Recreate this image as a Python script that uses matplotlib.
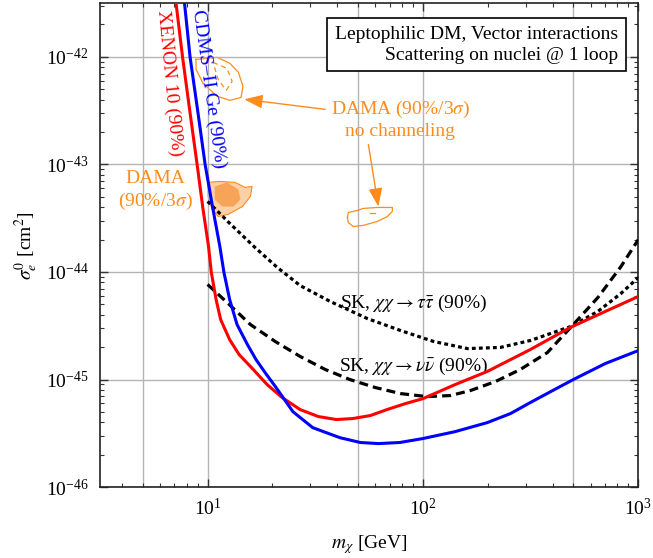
import matplotlib
matplotlib.use("Agg")
import matplotlib.pyplot as plt
from matplotlib.ticker import NullFormatter

plt.rcParams['font.family'] = ['Liberation Serif', 'DejaVu Serif']
plt.rcParams['mathtext.fontset'] = 'stix'

# XENON 10 (90%) limit
xenon_m = [7.10, 7.65, 8.25, 8.94, 9.53, 10.1, 10.4, 10.95, 11.5, 12.66, 14.0, 16.3,
           18.9, 22.2, 26.9, 32.7, 39.6, 47.2, 57.0, 68.1, 82.9, 100, 141, 199, 315,
           483, 703, 1000]
xenon_s = [3.43e-42, 1e-42, 3.24e-43, 1e-43, 3.8e-44, 1.73e-44, 1e-44, 5.55e-45,
           3.61e-45, 2.35e-45, 1.71e-45, 1.24e-45, 8.98e-46, 6.8e-46, 5.26e-46,
           4.53e-46, 4.25e-46, 4.34e-46, 4.63e-46, 5.26e-46, 5.98e-46, 6.65e-46,
           8.98e-46, 1.19e-45, 1.9e-45, 3.05e-45, 4.3e-45, 5.92e-45]

# CDMS-II Ge (90%) limit
cdms_m = [7.78, 8.29, 8.98, 9.74, 10.6, 11.4, 11.9, 12.66, 13.7, 15.3, 16.8, 18.5,
          20.8, 24.9, 30.8, 41.2, 51.2, 62.1, 78.1, 100, 141, 199, 255, 315,
          400, 499, 703, 1000]
cdms_s = [3.43e-42, 1e-42, 3.24e-43, 1e-43, 3.8e-44, 1.73e-44, 1e-44, 5.55e-45,
          3.25e-45, 2.12e-45, 1.53e-45, 1.16e-45, 8.43e-46, 5.03e-46,
          3.57e-46, 2.88e-46, 2.6e-46, 2.54e-46, 2.6e-46, 2.83e-46, 3.28e-46,
          3.98e-46, 4.83e-46, 6.11e-46, 7.9e-46, 1e-45, 1.41e-45, 1.86e-45]

# Super-Kamiokande, tau tau-bar channel
sk_tau_m = [10, 12.7, 16.6, 21.1, 26.9, 37.1, 55.2, 78.6, 112, 161, 229, 316, 485,
            649, 830, 1000]
sk_tau_s = [4.53e-44, 2.82e-44, 1.69e-44, 1.10e-44, 7.48e-45, 5.32e-45, 3.69e-45,
            2.86e-45, 2.26e-45, 1.94e-45, 1.99e-45, 2.31e-45, 3.11e-45, 4.3e-45,
            6.31e-45, 8.89e-45]

# Super-Kamiokande, nu nu-bar channel
sk_nu_m = [10, 12.6, 15.8, 20.6, 26.9, 35.2, 45.8, 60.1, 78.6, 104, 134, 166, 217,
           283, 378, 485, 649, 830, 1000]
sk_nu_s = [7.66e-45, 4.99e-45, 3.25e-45, 2.26e-45, 1.64e-45, 1.24e-45, 1e-45,
           8.43e-46, 7.41e-46, 6.95e-46, 7.1e-46, 7.9e-46, 9.58e-46, 1.24e-45,
           1.78e-45, 3.05e-45, 5.79e-45, 1.12e-44, 2.0e-44]

# DAMA (90%/3 sigma), with channeling
dama_out_m = [10.05, 11.43, 13.42, 14.94, 16.1, 15.8, 14.5, 12.45, 11.2, 10.5, 10.05]
dama_out_s = [6.81e-44, 6.95e-44, 6.81e-44, 6.11e-44, 6.24e-44, 5.03e-44, 4.06e-44,
              3.43e-44, 3.28e-44, 3.81e-44, 5.03e-44]
dama_in_m = [10.8, 12.3, 13.9, 14.2, 13.2, 11.7, 10.8]
dama_in_s = [6.24e-44, 6.81e-44, 5.85e-44, 4.72e-44, 4.06e-44, 4.06e-44, 4.72e-44]

# DAMA, no channeling (low mass island)
nc1_m = [8.84, 11.07, 12.7, 13.9, 14.6, 14.3, 12.7, 11.07, 9.53, 8.84, 8.84]
nc1_s = [9.48e-43, 9.9e-43, 8.7e-43, 7.18e-43, 5.32e-43, 4.2e-43, 3.94e-43,
         4.3e-43, 5.66e-43, 7.65e-43, 9.48e-43]
nc1_in_m = [10.6, 12.3, 13.0, 12.2, 11.2, 10.6]
nc1_in_s = [8.89e-43, 7.82e-43, 5.91e-43, 4.88e-43, 6.17e-43, 8.89e-43]

# DAMA, no channeling (high mass island)
nc2_m = [44.6, 45.0, 49.6, 52.8, 61.4, 72.1, 72.1, 68.4, 61.4, 52.8, 47.5, 45.0, 44.6]
nc2_s = [3.21e-44, 3.57e-44, 3.73e-44, 3.9e-44, 3.98e-44, 3.98e-44, 3.66e-44,
         3.28e-44, 2.95e-44, 2.71e-44, 2.65e-44, 2.88e-44, 3.21e-44]
nc2_in_m = [57.0, 60.1]
nc2_in_s = [3.57e-44, 3.57e-44]

x_ticks = [10, 100, 1000]
y_ticks = [1e-46, 1e-45, 1e-44, 1e-43, 1e-42]
grid_extra_x = [5, 50, 500]

orange = '#ff8c1a'
fs = 14

fig = plt.figure(figsize=(6.53, 5.58), dpi=100)
ax = fig.add_axes([0.153, 0.127, 0.8245, 0.8675])
ax.set_xscale('log')
ax.set_yscale('log')
ax.set_xlim(10 ** 0.5, 1000)
ax.set_ylim(1e-46, 10 ** -41.5)
ax.set_xticks(x_ticks)
ax.set_yticks(y_ticks)
ax.xaxis.set_minor_formatter(NullFormatter())
ax.yaxis.set_minor_formatter(NullFormatter())

ax.grid(True, which='major', color='#b4b4b4', lw=1.0, zorder=0)
for gx in grid_extra_x:
    ax.axvline(gx, color='#b4b4b4', lw=1.0, zorder=0)

# DAMA regions
ax.fill(dama_out_m, dama_out_s, fc='#fdd0a6', ec=orange, lw=0.8, zorder=1)
ax.fill(dama_in_m, dama_in_s, fc='#f8a458', ec='none', zorder=1)
ax.plot(nc1_m, nc1_s, color=orange, lw=0.9, zorder=1)
ax.plot(nc1_in_m, nc1_in_s, color=orange, lw=0.9, ls=(0, (4, 3)), zorder=1)
ax.plot(nc2_m, nc2_s, color=orange, lw=0.9, zorder=1)
ax.plot(nc2_in_m, nc2_in_s, color=orange, lw=0.9, zorder=1)

# limits
ax.plot(sk_tau_m, sk_tau_s, color='black', lw=2.3, ls=(0, (1.2, 1.0)), zorder=3)
ax.plot(sk_nu_m, sk_nu_s, color='black', lw=2.3, ls=(0, (2.8, 1.6)), zorder=3)
ax.plot(xenon_m, xenon_s, color='#ff0000', lw=2.2, zorder=4)
ax.plot(cdms_m, cdms_s, color='#0000ff', lw=2.2, zorder=4)

# labels on the plot
ax.text(6.69, 5.66e-43, 'XENON 10 (90%)', color='#ff0000', fontsize=fs,
        rotation=-84.6, ha='center', va='center', rotation_mode='anchor')
ax.text(10.16, 4.99e-43, 'CDMS–II Ge (90%)', color='#0000ff', fontsize=fs,
        rotation=-82, ha='center', va='center', rotation_mode='anchor')
ax.text(5.70, 5.61e-44, 'DAMA\n(90%/3$\\sigma$)', color=orange, fontsize=fs,
        ha='center', va='center', linespacing=1.25)
ax.text(78.5, 2.63e-43, 'DAMA (90%/3$\\sigma$)\nno channeling', color=orange,
        fontsize=fs, ha='center', va='center', linespacing=1.25)
ax.text(90.3, 5.09e-45, 'SK, $\\chi\\chi \\rightarrow \\tau\\bar{\\tau}$ (90%)',
        fontsize=fs, ha='center', va='center')
ax.text(90.3, 1.32e-45, 'SK, $\\chi\\chi \\rightarrow \\nu\\bar{\\nu}$ (90%)',
        fontsize=fs, ha='center', va='center')

arrow = dict(arrowstyle='-|>,head_length=0.8,head_width=0.3', color=orange,
             lw=1.0, mutation_scale=14, shrinkA=0, shrinkB=0)
ax.annotate('', xy=(14.8, 4.03e-43), xytext=(35.2, 3.25e-43), arrowprops=arrow)
ax.annotate('', xy=(62.1, 4.06e-44), xytext=(55.8, 1.53e-43), arrowprops=arrow)

ax.text(0.962, 0.914, 'Leptophilic DM, Vector interactions\nScattering on nuclei @ 1 loop',
        transform=ax.transAxes, fontsize=fs, ha='right', va='center',
        multialignment='right', linespacing=1.3, zorder=6,
        bbox=dict(boxstyle='square,pad=0.4', fc='white', ec='black', lw=1.2))

ax.set_xlabel('$m_\\chi$ [GeV]', fontsize=fs, labelpad=10)
ax.set_ylabel('$\\sigma_e^0$ [cm$^2$]', fontsize=fs, labelpad=4)

ax.tick_params(which='both', direction='in', top=True, right=True,
               labelsize=fs, color='#333333')
ax.tick_params(which='major', length=6, width=1.0, pad=8)
ax.tick_params(which='minor', length=3, width=0.8)
for sp in ax.spines.values():
    sp.set_linewidth(1.2)
    sp.set_color('#222222')

fig.savefig('out.png', dpi=100)
